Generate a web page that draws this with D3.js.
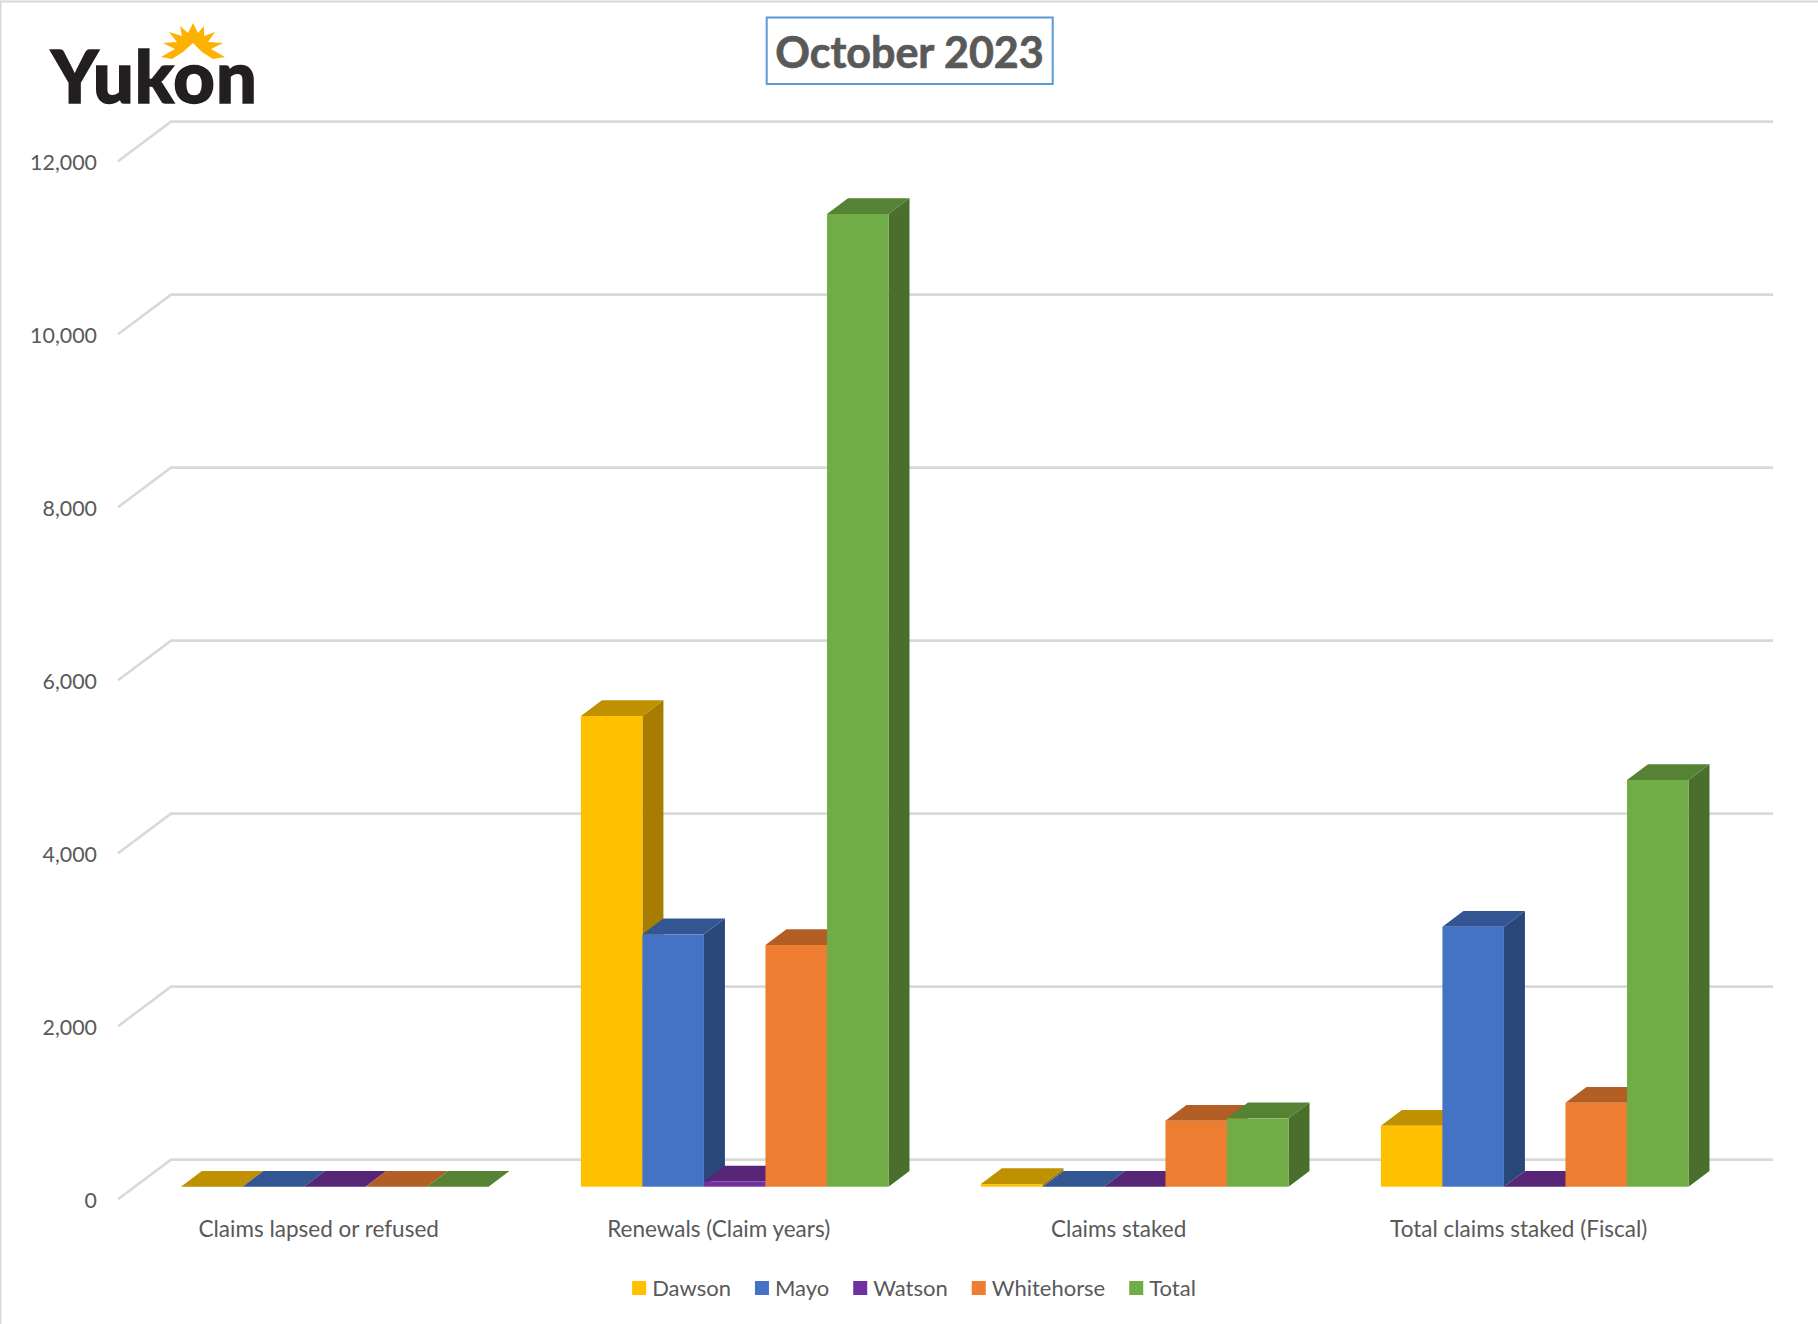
<!DOCTYPE html>
<html>
<head>
<meta charset="utf-8">
<script src="https://cdn.jsdelivr.net/npm/d3@7"></script>
<style>
  html, body { margin: 0; padding: 0; background: #fff; }
  svg { display: block; }
  text { font-family: Lato, "Open Sans", sans-serif; fill: #595959; }
</style>
</head>
<body>
<svg id="chart" width="1818" height="1324"></svg>
<script>
// values
const categories = ['Claims lapsed or refused', 'Renewals (Claim years)', 'Claims staked', 'Total claims staked (Fiscal)'];
const seriesNames = ['Dawson', 'Mayo', 'Watson', 'Whitehorse', 'Total'];
const dawson = [0, 5442, 30, 705];
const mayo = [0, 2918, 0, 3006];
const watson = [0, 60, 0, 0];
const whitehorse = [0, 2794, 763, 971];
const total = [0, 11245, 790, 4702];
const yTicks = [0, 2000, 4000, 6000, 8000, 10000, 12000];

const seriesValues = [dawson, mayo, watson, whitehorse, total];

// front, side, top faces
const front = ['#ffc000', '#4472c4', '#7030a0', '#ed7d31', '#70ad47'];
const side = ['#a67d00', '#2a4779', '#4a2069', '#a1551f', '#4a6e2b'];
const top_ = ['#bf9000', '#335693', '#572578', '#b25e24', '#568234'];

const svg = d3.select('#chart');

// page frame, top and left only
svg.append('path').attr('d', 'M0.5,1324V1.5H1818').attr('fill', 'none').attr('stroke', '#d9d9d9').attr('stroke-width', 2);

// y scale sits on the back wall, floor goes forward from there
const yScale = d3.scaleLinear().domain([0, 12000]).range([1159.6, 121.6]);
const wallLeft = 171, wallRight = 1773;
const floorDx = -53, floorDy = 39.6;
const barFloor = 27.1;          // bar front base relative to the wall
const depthX = 21, depthY = -15.8;

const x0 = d3.scaleBand().domain(categories).range([134.7, 1734.7]).paddingInner(0.231).paddingOuter(0.1155);
const x1 = d3.scaleBand().domain(seriesNames).range([0, x0.bandwidth()]);

// gridlines
const gridG = svg.append('g').attr('fill', 'none').attr('stroke', '#d9d9d9').attr('stroke-width', 2.6);
gridG.selectAll('path').data(yTicks).enter().append('path')
  .attr('d', d => `M${wallLeft + floorDx},${yScale(d) + floorDy}L${wallLeft},${yScale(d)}H${wallRight}`);

// y labels
svg.selectAll('.ytick').data(yTicks).enter().append('text')
  .attr('class', 'ytick')
  .attr('x', 97)
  .attr('y', d => yScale(d) + floorDy + 1)
  .attr('dy', '0.35em')
  .attr('text-anchor', 'end')
  .style('font-size', '21.4px')
  .text(d => d3.format(',')(d));

// bars, drawn left to right so the later ones overlap the earlier sides
const barRows = [];
categories.forEach((c, ci) => {
  seriesNames.forEach((s, si) => {
    barRows.push({ cat: c, name: s, si: si, value: seriesValues[si][ci] });
  });
});

const bars = svg.selectAll('.bar').data(barRows).enter().append('g').attr('class', 'bar');

const barBox = d => {
  const x = x0(d.cat) + x1(d.name);
  return { x: x, r: x + x1.bandwidth(), t: yScale(d.value) + barFloor, b: yScale(0) + barFloor };
};

bars.append('path').attr('fill', d => side[d.si]).attr('d', d => {
  const k = barBox(d);
  return `M${k.r},${k.t}l${depthX},${depthY}V${k.b + depthY}L${k.r},${k.b}Z`;
});
bars.append('path').attr('fill', d => top_[d.si]).attr('d', d => {
  const k = barBox(d);
  return `M${k.x},${k.t}l${depthX},${depthY}H${k.r + depthX}L${k.r},${k.t}Z`;
});
bars.append('rect').attr('fill', d => front[d.si])
  .attr('x', d => barBox(d).x)
  .attr('y', d => barBox(d).t)
  .attr('width', x1.bandwidth())
  .attr('height', d => barBox(d).b - barBox(d).t);

// category labels
svg.selectAll('.cat').data(categories).enter().append('text')
  .attr('class', 'cat')
  .attr('x', d => x0(d) + x0.bandwidth() / 2 - 16)
  .attr('y', 1229)
  .attr('dy', '0.35em')
  .attr('text-anchor', 'middle')
  .style('font-size', '22.5px')
  .text(d => d);

// legend, laid out from the measured text
const legend = svg.append('g');
const items = legend.selectAll('g').data(seriesNames).enter().append('g');
items.append('rect').attr('x', 0).attr('y', -7).attr('width', 14).attr('height', 14).attr('fill', (d, i) => front[i]);
items.append('text').attr('x', 20).attr('dy', '0.35em').style('font-size', '22px').text(d => d);
let legendX = 0;
items.attr('transform', function () {
  const here = legendX;
  legendX += 20 + this.querySelector('text').getComputedTextLength() + 24;
  return `translate(${here},0)`;
});
legend.attr('transform', `translate(${914 - (legendX - 24) / 2},1288)`);

// title
svg.append('rect').attr('x', 766.7).attr('y', 17.5).attr('width', 286).attr('height', 66.5)
  .attr('fill', '#fff').attr('stroke', '#5b9bd5').attr('stroke-width', 2);
svg.append('text').attr('x', 909.5).attr('y', 67.5).attr('text-anchor', 'middle')
  .style('font-size', '43px').style('font-weight', 700)
  .style('stroke', '#595959').style('stroke-width', 0.7)
  .text('October 2023');

// logo
svg.append('text').attr('x', 51).attr('y', 103)
  .style('font-size', '72px').style('font-weight', 900).style('fill', '#231f20')
  .style('stroke', '#231f20').style('stroke-width', 1.5).style('letter-spacing', '1px')
  .text('Yukon');
svg.append('path').attr('fill', '#fdb100')
  .attr('d', 'M161,57L175,49L163,43L177,42L169,32L182,36L180,26L188,33L193,23L198,33L204,26L204,36L215,32L208,42L223,43L211,49L225,57L213,59L202,52L193,43L183,52L172,59Z');
</script>
</body>
</html>
